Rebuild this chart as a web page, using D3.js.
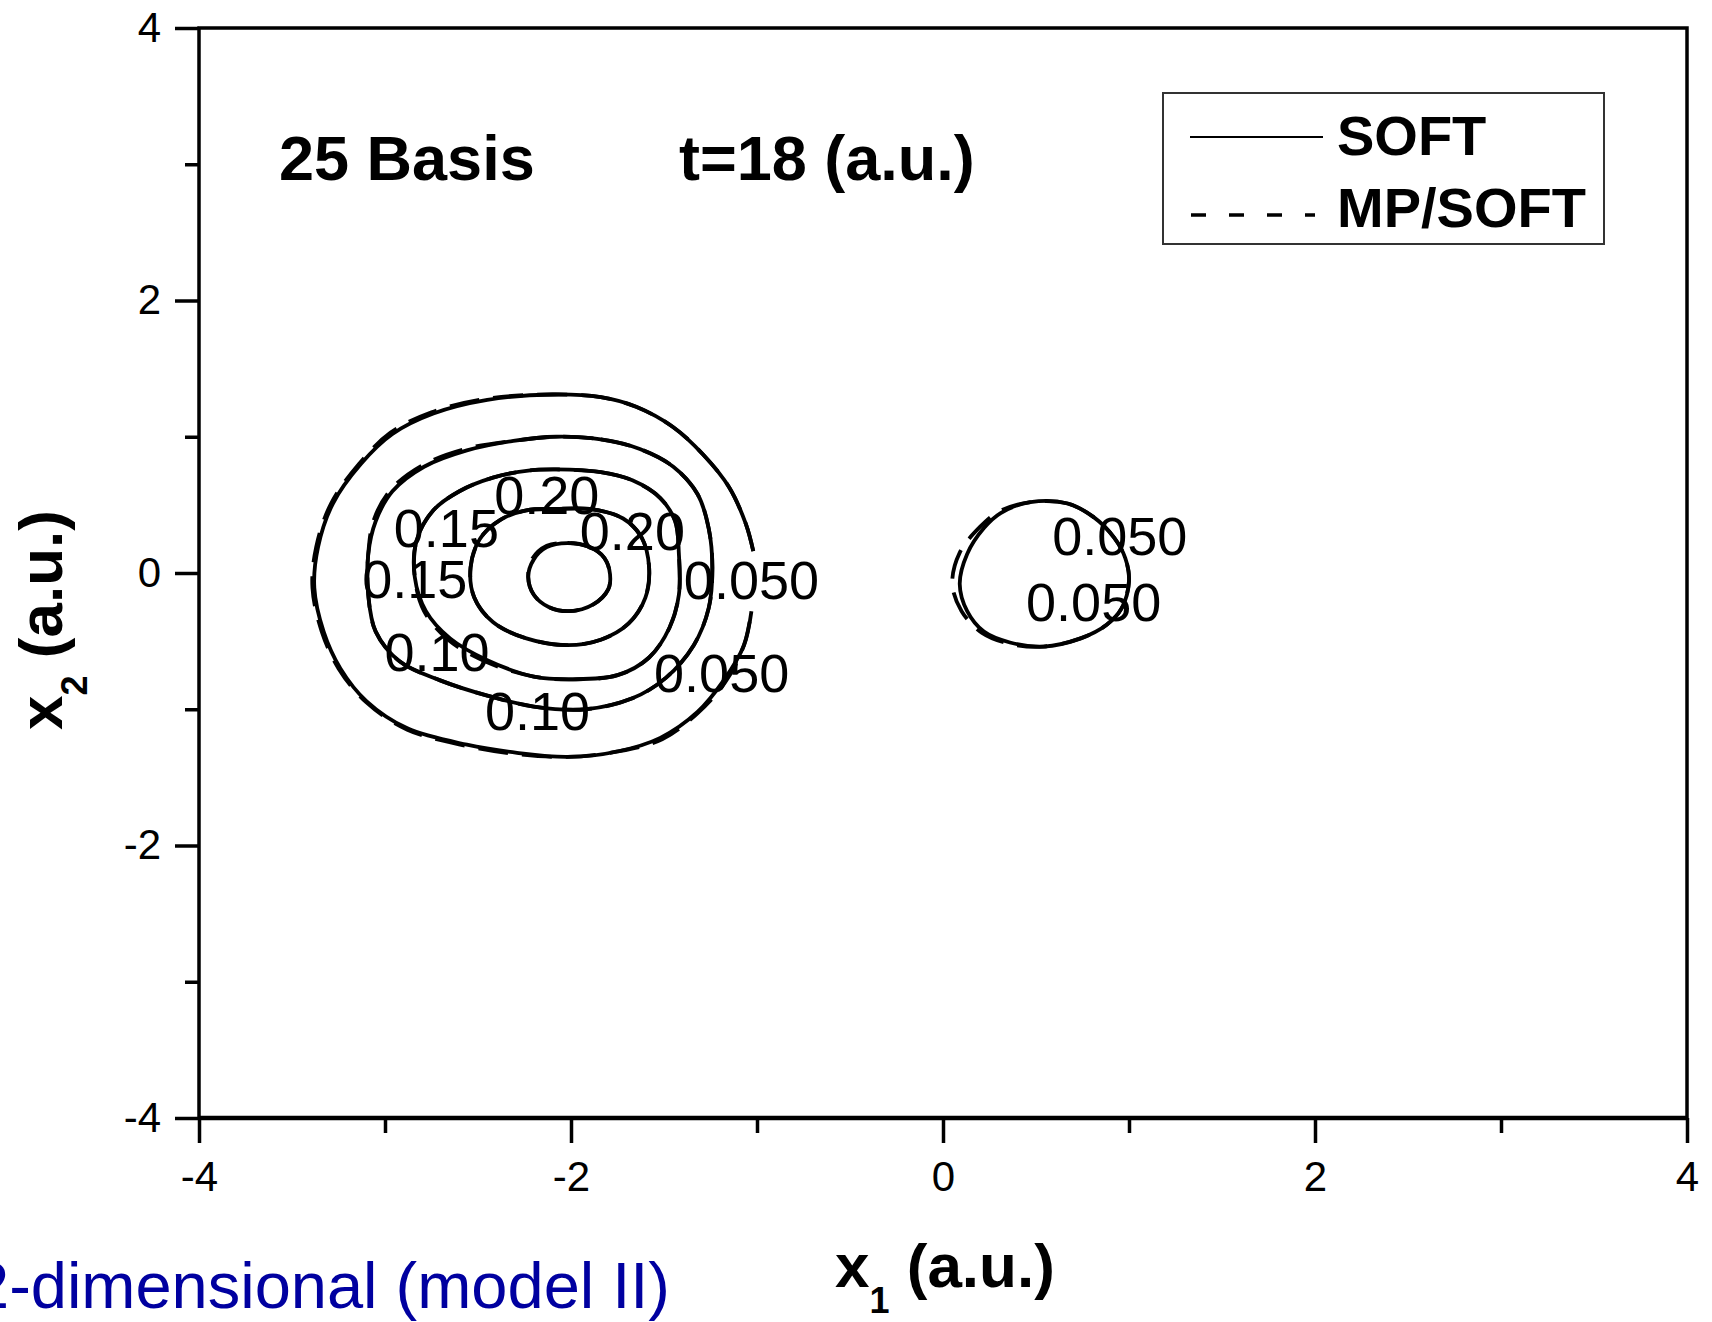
<!DOCTYPE html>
<html lang="en">
<head>
<meta charset="UTF-8">
<title>25 Basis contour</title>
<script src="https://d3js.org/d3.v7.min.js"></script>
<style>
  body { margin: 0; background: #fff; }
  text { font-family: "Liberation Sans", Arial, Helvetica, sans-serif; }
</style>
</head>
<body>
<svg id="canvas"></svg>
<script>
// ticks
let xMajor = [-4, -2, 0, 2, 4]
let xMinor = [-3, -1, 1, 3]
let yMajor = [-4, -2, 0, 2, 4]
let yMinor = [-3, -1, 1, 3]

// contours, [x1, x2] in a.u.
// SOFT (solid)
let softA = [[-1.02,0.16],[-1.06,0.36],[-1.15,0.63],[-1.29,0.87],[-1.45,1.07],[-1.65,1.22],[-1.84,1.29],[-2.10,1.31],[-2.45,1.27],[-2.74,1.17],[-2.96,1.02],[-3.13,0.80],[-3.28,0.51],[-3.36,0.19],[-3.38,-0.11],[-3.33,-0.43],[-3.24,-0.70],[-3.10,-0.94],[-2.88,-1.14],[-2.56,-1.26],[-2.29,-1.32],[-2.02,-1.35],[-1.75,-1.31],[-1.52,-1.21],[-1.32,-1.02],[-1.18,-0.79],[-1.07,-0.53],[-1.03,-0.28]]
let softB = [[-2.08,1.00],[-1.84,0.98],[-1.63,0.91],[-1.45,0.78],[-1.32,0.58],[-1.26,0.33],[-1.24,0.04],[-1.26,-0.26],[-1.34,-0.53],[-1.49,-0.77],[-1.67,-0.92],[-1.92,-1.00],[-2.20,-0.98],[-2.45,-0.90],[-2.70,-0.79],[-2.92,-0.65],[-3.05,-0.43],[-3.09,-0.16],[-3.09,0.14],[-3.05,0.38],[-2.96,0.60],[-2.79,0.78],[-2.56,0.90],[-2.31,0.97]]
let softC = [[-2.08,0.76],[-1.84,0.74],[-1.67,0.68],[-1.52,0.55],[-1.44,0.38],[-1.42,0.14],[-1.42,-0.16],[-1.47,-0.40],[-1.58,-0.62],[-1.75,-0.75],[-1.99,-0.78],[-2.20,-0.76],[-2.45,-0.64],[-2.65,-0.48],[-2.78,-0.28],[-2.84,-0.03],[-2.83,0.24],[-2.74,0.46],[-2.60,0.60],[-2.42,0.70],[-2.24,0.75]]
let softD = [[-2.08,0.47],[-1.90,0.47],[-1.72,0.40],[-1.62,0.26],[-1.58,0.04],[-1.60,-0.18],[-1.69,-0.37],[-1.84,-0.49],[-2.02,-0.53],[-2.24,-0.48],[-2.42,-0.36],[-2.52,-0.18],[-2.54,0.04],[-2.49,0.25],[-2.38,0.39],[-2.24,0.46]]
let softE = [[-2.02,0.22],[-1.90,0.19],[-1.82,0.11],[-1.79,-0.01],[-1.80,-0.12],[-1.88,-0.23],[-2.01,-0.28],[-2.12,-0.25],[-2.20,-0.16],[-2.23,-0.03],[-2.20,0.10],[-2.13,0.19]]
let softR = [[0.47,0.52],[0.67,0.51],[0.81,0.41],[0.92,0.26],[0.98,0.11],[1.00,-0.06],[0.96,-0.26],[0.88,-0.38],[0.74,-0.48],[0.54,-0.54],[0.36,-0.51],[0.22,-0.43],[0.13,-0.28],[0.09,-0.08],[0.13,0.14],[0.22,0.33],[0.31,0.44]]

// MP/SOFT (dashed)
let mpA = [[-1.02,0.16],[-1.06,0.36],[-1.15,0.63],[-1.29,0.87],[-1.45,1.07],[-1.65,1.22],[-1.84,1.29],[-2.10,1.31],[-2.45,1.28],[-2.75,1.18],[-2.97,1.03],[-3.14,0.80],[-3.29,0.51],[-3.37,0.19],[-3.39,-0.11],[-3.34,-0.43],[-3.25,-0.70],[-3.10,-0.95],[-2.88,-1.15],[-2.56,-1.27],[-2.29,-1.33],[-2.02,-1.35],[-1.75,-1.31],[-1.51,-1.22],[-1.32,-1.03],[-1.17,-0.80],[-1.07,-0.53],[-1.03,-0.28]]
let mpB = [[-2.08,1.00],[-1.84,0.98],[-1.63,0.91],[-1.45,0.78],[-1.32,0.58],[-1.26,0.33],[-1.24,0.04],[-1.26,-0.26],[-1.34,-0.53],[-1.49,-0.77],[-1.67,-0.92],[-1.92,-1.00],[-2.20,-0.98],[-2.45,-0.90],[-2.70,-0.79],[-2.92,-0.65],[-3.05,-0.43],[-3.09,-0.16],[-3.09,0.14],[-3.06,0.39],[-2.97,0.61],[-2.80,0.79],[-2.57,0.91],[-2.31,0.97]]
let mpC = [[-2.08,0.76],[-1.84,0.74],[-1.67,0.68],[-1.52,0.55],[-1.44,0.38],[-1.42,0.14],[-1.42,-0.16],[-1.47,-0.40],[-1.58,-0.62],[-1.75,-0.75],[-1.99,-0.78],[-2.20,-0.76],[-2.46,-0.65],[-2.66,-0.49],[-2.79,-0.28],[-2.84,-0.03],[-2.83,0.24],[-2.74,0.46],[-2.60,0.60],[-2.42,0.70],[-2.24,0.75]]
let mpD = [[-2.08,0.47],[-1.90,0.47],[-1.72,0.40],[-1.62,0.26],[-1.58,0.04],[-1.60,-0.18],[-1.69,-0.37],[-1.84,-0.49],[-2.02,-0.53],[-2.24,-0.48],[-2.42,-0.36],[-2.52,-0.18],[-2.54,0.04],[-2.49,0.25],[-2.38,0.39],[-2.24,0.46]]
let mpE = [[-2.02,0.22],[-1.90,0.19],[-1.82,0.11],[-1.79,-0.01],[-1.80,-0.12],[-1.88,-0.23],[-2.01,-0.28],[-2.12,-0.25],[-2.20,-0.16],[-2.23,-0.03],[-2.21,0.10],[-2.13,0.20]]
let mpR = [[0.47,0.52],[0.67,0.51],[0.81,0.41],[0.92,0.26],[0.98,0.11],[1.00,-0.06],[0.96,-0.26],[0.88,-0.38],[0.74,-0.48],[0.54,-0.54],[0.36,-0.52],[0.21,-0.44],[0.10,-0.28],[0.05,-0.08],[0.09,0.15],[0.20,0.34],[0.30,0.45]]

// contour labels
let labelText = ["0.20", "0.15", "0.20", "0.15", "0.050", "0.10", "0.050", "0.10", "0.050", "0.050"]
let labelX = [-2.13, -2.67, -1.67, -2.84, -1.03, -2.72, -1.19, -2.18, 0.95, 0.81]
let labelY = [0.43, 0.19, 0.17, -0.18, -0.19, -0.72, -0.87, -1.15, 0.13, -0.35]

let legendNames = ["SOFT", "MP/SOFT"]

let width = 1712
let height = 1322
let font = '"Liberation Sans", Arial, Helvetica, sans-serif'

let svg = d3.select('#canvas').attr('width', width).attr('height', height)

let xScale = d3.scaleLinear().domain([-4, 4]).range([199, 1687])
let yScale = d3.scaleLinear().domain([-4, 4]).range([1118, 28])

let styleAxis = (g, w) => {
  g.attr('font-size', 42).attr('font-family', font)
  g.select('.domain').remove()
  g.selectAll('line').attr('stroke', '#000').attr('stroke-width', w)
  g.selectAll('text').attr('fill', '#000')
}

let makeAxes = () => {
  let yg = svg.append('g').attr('transform', 'translate(' + xScale(-4) + ',0)')
  yg.call(d3.axisLeft(yScale).tickValues(yMajor).tickSize(24).tickSizeOuter(0).tickPadding(14).tickFormat(d => String(d)))
  styleAxis(yg, 3.5)
  let ym = svg.append('g').attr('transform', 'translate(' + xScale(-4) + ',0)')
  ym.call(d3.axisLeft(yScale).tickValues(yMinor).tickSize(14).tickSizeOuter(0).tickFormat(''))
  styleAxis(ym, 3.5)

  let xg = svg.append('g').attr('transform', 'translate(0,' + yScale(-4) + ')')
  xg.call(d3.axisBottom(xScale).tickValues(xMajor).tickSize(25).tickSizeOuter(0).tickPadding(18).tickFormat(d => String(d)))
  styleAxis(xg, 3.5)
  let xm = svg.append('g').attr('transform', 'translate(0,' + yScale(-4) + ')')
  xm.call(d3.axisBottom(xScale).tickValues(xMinor).tickSize(15).tickSizeOuter(0).tickFormat(''))
  styleAxis(xm, 3.5)

  // frame
  svg.append('rect')
     .attr('x', xScale(-4)).attr('y', yScale(4))
     .attr('width', xScale(4) - xScale(-4))
     .attr('height', yScale(-4) - yScale(4))
     .attr('fill', 'none').attr('stroke', '#000').attr('stroke-width', 3.5)
  svg.append('line')
     .attr('x1', xScale(-4)).attr('x2', xScale(4))
     .attr('y1', yScale(-4)).attr('y2', yScale(-4))
     .attr('stroke', '#000').attr('stroke-width', 4.5)
}

let makeContours = () => {
  let closedLine = d3.line().x(d => xScale(d[0])).y(d => yScale(d[1])).curve(d3.curveCatmullRomClosed.alpha(0.5))
  let openLine = d3.line().x(d => xScale(d[0])).y(d => yScale(d[1])).curve(d3.curveCatmullRom.alpha(0.5))

  let soft = [softB, softC, softD, softE, softR]
  let mp = [mpB, mpC, mpD, mpE, mpR]

  let g = svg.append('g').attr('fill', 'none').attr('stroke', '#000').attr('stroke-linejoin', 'round')

  g.selectAll('path.soft').data(soft).enter().append('path')
   .attr('class', 'soft').attr('d', closedLine).attr('stroke-width', 3.8)
  g.append('path').datum(softA).attr('d', openLine).attr('stroke-width', 3.8)

  g.selectAll('path.mp').data(mp).enter().append('path')
   .attr('class', 'mp').attr('d', closedLine).attr('stroke-width', 3.8)
   .attr('stroke-dasharray', '30,14')
  g.append('path').datum(mpA).attr('d', openLine).attr('stroke-width', 3.8)
   .attr('stroke-dasharray', '30,14')

  svg.append('g').selectAll('text').data(labelText).enter().append('text')
     .attr('x', (d, i) => xScale(labelX[i]))
     .attr('y', (d, i) => yScale(labelY[i]))
     .attr('text-anchor', 'middle')
     .attr('font-size', 54)
     .attr('fill', '#000')
     .text(d => d)
}

let makeLegend = () => {
  let lg = svg.append('g')
  lg.append('rect').attr('x', 1163).attr('y', 93).attr('width', 441).attr('height', 151)
    .attr('fill', '#fff').attr('stroke', '#333').attr('stroke-width', 2)
  lg.append('line').attr('x1', 1190).attr('x2', 1323).attr('y1', 137).attr('y2', 137)
    .attr('stroke', '#000').attr('stroke-width', 2)
  lg.append('line').attr('x1', 1191).attr('x2', 1315).attr('y1', 215).attr('y2', 215)
    .attr('stroke', '#000').attr('stroke-width', 3.5).attr('stroke-dasharray', '15,23')
  lg.selectAll('text').data(legendNames).enter().append('text')
    .attr('x', 1337).attr('y', (d, i) => 155 + i * 72)
    .attr('font-size', 56).attr('font-weight', 'bold').attr('fill', '#000')
    .text(d => d)
}

let makeTitles = () => {
  svg.append('text').attr('x', 279).attr('y', 180)
     .attr('font-size', 63).attr('font-weight', 'bold').text('25 Basis')
  svg.append('text').attr('x', 679).attr('y', 180)
     .attr('font-size', 63).attr('font-weight', 'bold').text('t=18 (a.u.)')

  let xt = svg.append('text').attr('x', 835).attr('y', 1287)
     .attr('font-size', 62).attr('font-weight', 'bold')
  xt.append('tspan').text('x')
  xt.append('tspan').attr('font-size', 36).attr('dy', 26).text('1')
  xt.append('tspan').attr('dy', -26).text(' (a.u.)')

  let yt = svg.append('text').attr('transform', 'translate(62,620) rotate(-90)')
     .attr('text-anchor', 'middle')
     .attr('font-size', 62).attr('font-weight', 'bold')
  yt.append('tspan').text('x')
  yt.append('tspan').attr('font-size', 36).attr('dy', 25).text('2')
  yt.append('tspan').attr('dy', -25).text(' (a.u.)')

  svg.append('text').attr('x', -27).attr('y', 1308)
     .attr('font-size', 64).attr('fill', '#0000a0')
     .attr('textLength', 697).attr('lengthAdjust', 'spacingAndGlyphs')
     .text('2-dimensional (model II)')
}

makeAxes()
makeContours()
makeLegend()
makeTitles()
</script>
</body>
</html>
